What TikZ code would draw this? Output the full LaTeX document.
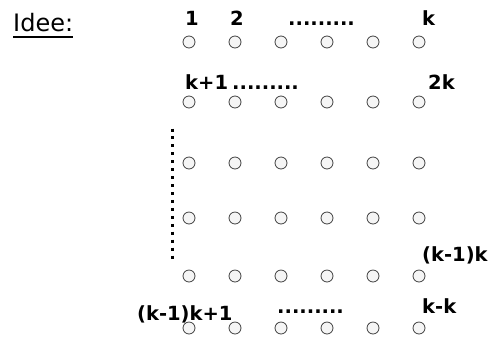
\documentclass[tikz,border=0pt]{standalone}
\usepackage{fontspec}
\setmainfont{DejaVu Sans}
\begin{document}
\begin{tikzpicture}[x=1pt,y=-1pt,
  dot/.style={circle,draw=black!75,fill=black!4,line width=0.8pt,minimum size=12pt,inner sep=0pt},
  lbl/.style={anchor=base west,inner sep=0pt,font=\fontsize{19.5}{19.5}\selectfont\bfseries},
  title/.style={anchor=base west,inner sep=0pt,font=\fontsize{24}{24}\selectfont}]
\useasboundingbox (0,0) rectangle (492,341);
\node[title] (idee) at (13,31) {Idee:};
\draw[line width=1.3pt] (idee.base west) ++(0,6) coordinate (u1) -- (u1 -| idee.east);
\foreach \r/\y in {1/42,2/102,3/163,4/218,5/276,6/328}{
  \foreach \c/\x in {1/189,2/235,3/281,4/327,5/373,6/419}{
    \node[dot] (c-\r-\c) at (\x,\y) {};
  }
}
\node[lbl] (l1) at (185,25) {1};
\node[lbl] (l2) at (230,25) {2};
\node[lbl] (d1) at (288,25) {.........};
\node[lbl] (lk) at (422,25) {k};
\node[lbl] (lk1) at (185,89) {k+1};
\node[lbl] (d2) at (232,89) {.........};
\node[lbl] (l2k) at (428,89) {2k};
\node[lbl] (lkm) at (422,261) {(k-1)k};
\node[lbl] (lkk) at (422,313) {k-k};
\node[lbl] (lkm1) at (137,320) {(k-1)k+1};
\node[lbl] (d3) at (277,313) {.........};
\coordinate (v1) at (172,128.5);
\coordinate (v2) at (172,258.5);
\draw[line width=3pt,dash pattern=on 3pt off 4.94pt] (v1) -- (v2);
\end{tikzpicture}
\end{document}
